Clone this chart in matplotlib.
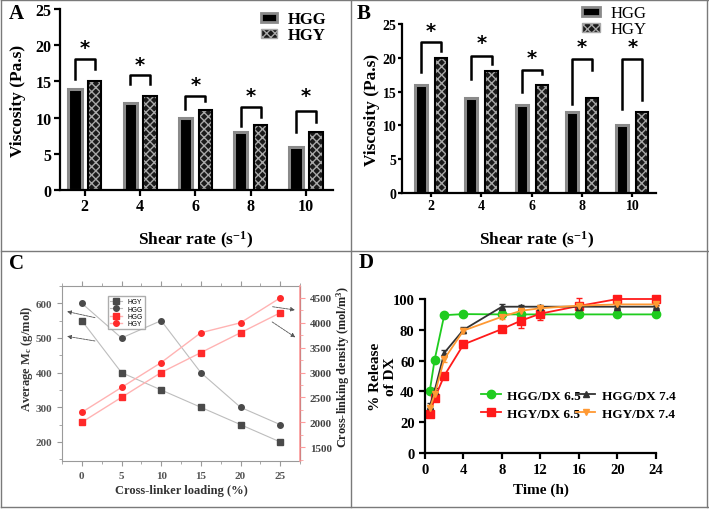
import numpy as np
import matplotlib
matplotlib.use("Agg")
import matplotlib.pyplot as plt
from matplotlib.lines import Line2D
from matplotlib.patches import Patch

plt.rcParams['font.family'] = ['Liberation Serif', 'DejaVu Serif']
plt.rcParams['font.weight'] = 'bold'
plt.rcParams['axes.labelweight'] = 'bold'
plt.rcParams['mathtext.fontset'] = 'custom'
plt.rcParams['mathtext.rm'] = 'Liberation Serif'
plt.rcParams['mathtext.bf'] = 'Liberation Serif:bold'
plt.rcParams['mathtext.it'] = 'Liberation Serif:italic'

# ---- datos ----
shear = ['2', '4', '6', '8', '10']
A_hgg = [14, 12, 10, 8, 6]
A_hgy = [15, 13, 11, 9, 8]
B_hgg = [16, 14, 13, 12, 10]
B_hgy = [20, 18, 16, 14, 12]

# corchetes de significancia (bajada izq, tope, bajada der, asterisco)
A_leg_l = [15.3, 14.6, 11.2, 8.8, 8.0]
A_top = [18.1, 15.9, 13.0, 11.5, 10.9]
A_leg_r = [16.7, 14.6, 12.3, 10.1, 9.4]
A_star = [19.7, 17.4, 14.6, 13.0, 13.0]
B_leg_l = [17.9, 16.9, 14.9, 13.2, 12.4]
B_top = [22.3, 20.3, 18.2, 19.8, 19.8]
B_leg_r = [21.0, 19.1, 17.6, 18.2, 13.8]
B_star = [24.0, 22.3, 20.1, 21.6, 21.6]

loading = [0, 5, 10, 15, 20, 25]
mc_hgy = [550, 400, 350, 300, 250, 200]
mc_hgg = [600, 500, 550, 400, 300, 250]
dens_hgg = [2000, 2500, 3000, 3400, 3800, 4200]
dens_hgy = [2200, 2700, 3200, 3800, 4000, 4500]

t = [0.5, 1, 2, 4, 8, 10, 12, 16, 20, 24]
hgg65 = [40.5, 60.5, 89.5, 90.2, 90, 90, 90, 90, 90, 90]
hgg65_err = [1, 1.5, 1.5, 1, 0.5, 0.5, 0.5, 0.5, 0.5, 0.5]
hgy65 = [25.3, 35.5, 50.2, 70.5, 80.5, 86, 90.5, 95.5, 100, 100]
hgy65_err = [2, 2, 2, 1.5, 1.5, 5, 4, 5, 1, 1]
hgg74 = [30.5, 40.5, 65, 80, 95, 95, 95, 95, 95, 95]
hgg74_err = [2, 2, 2, 2, 2, 1, 1, 1, 1, 1]
hgy74 = [29, 38, 61, 79.5, 88.5, 92.4, 94, 95.7, 96.5, 96.5]
hgy74_err = [2, 2, 2, 1.5, 1.5, 1.5, 1.5, 1.5, 1, 1]

W, H = 709, 510
fig = plt.figure(figsize=(W / 100, H / 100), dpi=100)


def px_axes(l, r, t_, b):
    return fig.add_axes([l / W, (H - b) / H, (r - l) / W, (b - t_) / H])


def bar_panel(ax, hgg, hgy, legl, top, legr, star, off, width, tsize):
    x = np.arange(len(shear))
    ax.bar(x - off, hgg, width, color='black', edgecolor='#8a8a8a', linewidth=2.2)
    ax.bar(x + off, hgy, width, color='#1a1a1a', edgecolor='#a8a8a8',
           linewidth=0, hatch='xxxx')
    ax.bar(x + off, hgy, width, fill=False, edgecolor='black', linewidth=1.5)
    for i in range(len(x)):
        ax.plot([x[i] - off, x[i] - off, x[i] + off, x[i] + off],
                [legl[i], top[i], top[i], legr[i]], color='black', lw=1.8)
        ax.text(x[i], star[i], '*', ha='center', va='center', fontsize=14,
                fontweight='bold', family='DejaVu Sans')
    ax.set_xticks(x)
    ax.set_xticklabels(shear)
    ax.set_ylim(0, 25)
    ax.set_yticks([0, 5, 10, 15, 20, 25])
    for s in ['top', 'right']:
        ax.spines[s].set_visible(False)
    for s in ['left', 'bottom']:
        ax.spines[s].set_linewidth(1.6)
    ax.tick_params(width=1.6, length=4, pad=2, labelsize=tsize)
    ax.set_ylabel('Viscosity (Pa.s)', fontsize=12.5)
    ax.set_xlabel('Shear rate (s$^{\\mathbf{-1}}$)', fontsize=12.5)


def bar_handles():
    return [Patch(facecolor='black', edgecolor='#8a8a8a', linewidth=2),
            Patch(facecolor='#1a1a1a', edgecolor='#a8a8a8', hatch='xxxx', linewidth=1)]


# ---- A ----
axA = px_axes(60, 333, 10, 191)
bar_panel(axA, A_hgg, A_hgy, A_leg_l, A_top, A_leg_r, A_star, 0.18, 0.24, 11.5)
axA.set_xlim(-0.45, 4.49)
axA.yaxis.set_label_coords(-0.125, 0.5)
axA.xaxis.set_label_coords(0.495, -0.215)
axA.legend(bar_handles(), ['HGG', 'HGY'], loc='upper left',
           bbox_to_anchor=(0.68, 1.07), frameon=False,
           prop={'weight': 'bold', 'size': 12}, handlelength=1.0,
           handleheight=0.5, handletextpad=0.6, labelspacing=0.0)

# ---- B ----
axB = px_axes(402, 656, 25, 194)
bar_panel(axB, B_hgg, B_hgy, B_leg_l, B_top, B_leg_r, B_star, 0.2, 0.24, 10)
axB.tick_params(length=3, pad=1)
axB.set_xlim(-0.58, 4.47)
axB.yaxis.set_label_coords(-0.085, 0.5)
axB.xaxis.set_label_coords(0.53, -0.215)
axB.legend(bar_handles(), ['HGG', 'HGY'], loc='upper left',
           bbox_to_anchor=(0.65, 1.2), frameon=False,
           prop={'weight': 'normal', 'size': 12}, handlelength=1.1,
           handleheight=0.5, handletextpad=0.6, labelspacing=0.0)

# ---- C ----
axC = px_axes(62, 300, 287, 462)
axC2 = axC.twinx()
gris = '#9a9a9a'
rojo = '#ff9c9c'
l1, = axC.plot(loading, mc_hgy, color='#bdbdbd', lw=0.8, marker='s', ms=4,
               mfc='#4a4a4a', mec='#4a4a4a', label='HGY')
l2, = axC.plot(loading, mc_hgg, color='#bdbdbd', lw=0.8, marker='o', ms=4,
               mfc='#4a4a4a', mec='#4a4a4a', label='HGG')
l3, = axC2.plot(loading, dens_hgg, color='#ffb3b3', lw=1.0, marker='s', ms=4,
                mfc='#ff2a2a', mec='#ff2a2a', label='HGG')
l4, = axC2.plot(loading, dens_hgy, color='#ffb3b3', lw=1.0, marker='o', ms=4,
                mfc='#ff2a2a', mec='#ff2a2a', label='HGY')
axC.set_xlim(-2.5, 27.5)
axC.set_ylim(145, 650)
axC2.set_ylim(1220, 4740)
axC.set_xticks(loading)
axC.set_xticks(np.arange(-2.5, 28, 2.5), minor=True)
axC.set_yticks([200, 300, 400, 500, 600])
axC.set_yticks(np.arange(150, 651, 50), minor=True)
axC2.set_yticks([1500, 2000, 2500, 3000, 3500, 4000, 4500])
axC2.set_yticks(np.arange(1250, 4740, 250), minor=True)
for s in ['top', 'bottom', 'left']:
    axC.spines[s].set_color(gris)
axC2.spines['right'].set_color(rojo)
axC2.spines['right'].set_linewidth(1.2)
for s in ['top', 'bottom', 'left']:
    axC2.spines[s].set_visible(False)
axC.tick_params(axis='both', which='major', colors=gris, labelcolor='#555555',
                labelsize=8, length=3.5)
axC.tick_params(axis='both', which='minor', colors=gris, length=2)
axC.tick_params(axis='x', which='both', top=True, direction='out', bottom=True)
axC2.tick_params(axis='y', which='major', colors=rojo, labelcolor='#444444',
                 labelsize=8, length=3.5)
axC2.tick_params(axis='y', which='minor', colors=rojo, length=2)
axC.set_ylabel('Average M$_\\mathbf{c}$ (g/mol)', fontsize=9, color='#333333')
axC2.set_ylabel('Cross-linking density (mol/m$^\\mathbf{3}$)', fontsize=8.8,
                color='#222222')
axC.set_xlabel('Cross-linker loading (%)', fontsize=9, color='#333333')
axC.yaxis.set_label_coords(-0.115, 0.59)
axC2.yaxis.set_label_coords(1.145, 0.54)
axC.xaxis.set_label_coords(0.5, -0.13)
axC2.legend([l1, l2, l3, l4], ['HGY', 'HGG', 'HGG', 'HGY'], loc='upper left',
            bbox_to_anchor=(0.18, 0.96), prop={'family': 'Liberation Sans',
                                                'weight': 'normal', 'size': 4.8},
            frameon=True, fancybox=False, edgecolor='#999999',
            handlelength=1.8, labelspacing=0.05, borderpad=0.3)
# flechas que indican el eje
flechas_izq = [((2.0, 557), (-2.2, 578)), ((2.0, 490), (-2.2, 506))]
flechas_der = [((23.7, 4331), (27.2, 4250)), ((23.7, 4048), (27.2, 3677))]
for (a, b) in flechas_izq:
    axC.annotate('', xy=b, xytext=a, annotation_clip=False,
                 arrowprops=dict(arrowstyle='-|>', color='#555555', lw=0.6,
                                 ls=(0, (3, 1)), mutation_scale=6))
for (a, b) in flechas_der:
    axC2.annotate('', xy=b, xytext=a, annotation_clip=False,
                  arrowprops=dict(arrowstyle='-|>', color='#555555', lw=0.6,
                                  ls=(0, (3, 1)), mutation_scale=6))

# ---- D ----
axD = px_axes(425, 656, 300, 454)
series = [(hgg65, hgg65_err, '#1fcc1f', 'o', 'HGG/DX 6.5'),
          (hgy65, hgy65_err, '#ff1a1a', 's', 'HGY/DX 6.5'),
          (hgg74, hgg74_err, '#333333', '^', 'HGG/DX 7.4'),
          (hgy74, hgy74_err, '#ff9933', 'v', 'HGY/DX 7.4')]
handles = []
for y, e, c, m, lab in series:
    ms = 6 if m in 'os' else 4
    ebc = axD.errorbar(t, y, yerr=e, color=c, marker=m, ms=ms,
                       lw=1.3, capsize=2, elinewidth=1, clip_on=False)
    for art in ebc.lines[1] + ebc.lines[2]:
        art.set_clip_on(False)
    handles.append(Line2D([], [], color=c, marker=m, ms=ms, lw=1.3))
axD.set_xlim(0, 24)
axD.set_ylim(0, 100)
axD.set_xticks([0, 4, 8, 12, 16, 20, 24])
axD.set_yticks([0, 20, 40, 60, 80, 100])
for s in ['top', 'right']:
    axD.spines[s].set_visible(False)
for s in ['left', 'bottom']:
    axD.spines[s].set_linewidth(1.6)
axD.tick_params(width=1.6, length=4, labelsize=10.5)
axD.set_ylabel('% Release\nof DX', fontsize=11)
axD.set_xlabel('Time (h)', fontsize=11)
axD.yaxis.set_label_coords(-0.12, 0.5)
axD.xaxis.set_label_coords(0.5, -0.19)
axD.legend(handles, [s[4] for s in series], ncol=2, loc='upper left',
           bbox_to_anchor=(0.19, 0.49), frameon=False,
           prop={'weight': 'bold', 'size': 9.5}, handlelength=1.5,
           handletextpad=0.5, columnspacing=-0.4, labelspacing=0.45)

# ---- letras y recuadros ----
for letra, x, y in [('A', 16, 14), ('B', 364, 14), ('C', 16, 264), ('D', 366, 263)]:
    fig.text(x / W, 1 - y / H, letra, fontsize=15, fontweight='bold',
             ha='center', va='center')
borde = '#7a7a7a'
for xs, ys in [([1, 708], [1, 1]), ([1, 708], [508, 508]), ([1, 1], [1, 508]),
               ([707, 707], [1, 508]), ([351, 351], [1, 508]), ([1, 708], [252, 252])]:
    fig.add_artist(Line2D([v / W for v in xs], [1 - v / H for v in ys],
                          color=borde, lw=1))

fig.savefig('out.png', dpi=100)
